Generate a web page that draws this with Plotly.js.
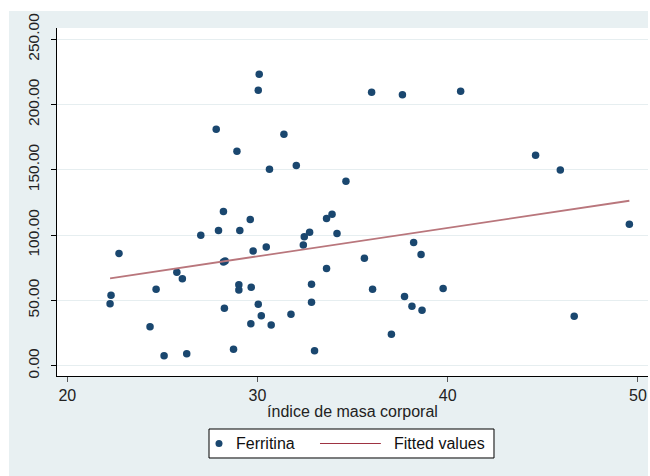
<!DOCTYPE html>
<html>
<head>
<meta charset="utf-8">
<script src="https://cdn.plot.ly/plotly-3.0.1.min.js"></script>
<style>
html,body{margin:0;padding:0;background:#ffffff;}
#chart{position:absolute;left:9px;top:11px;width:639px;height:465px;}
</style>
</head>
<body>
<div id="chart"></div>
<script>
// Índice de masa corporal (x) vs Ferritina (y)
const imc = [22.25,22.30,22.72,24.35,24.67,25.09,25.76,26.05,26.28,27.02,
             27.83,27.95,28.21,28.21,28.30,28.26,28.74,28.92,29.02,29.02,
             29.07,29.62,29.65,29.67,29.77,30.04,30.09,30.04,30.20,30.46,
             30.63,30.72,31.39,31.76,32.04,32.41,32.46,32.74,32.84,32.84,
             33.00,33.63,33.63,33.92,34.18,34.65,35.62,36.00,36.05,37.04,
             37.62,37.73,38.12,38.21,38.60,38.65,39.76,40.68,44.62,45.92,
             46.65,49.55];
const ferritina = [47.5,53.9,86.0,29.9,58.5,7.7,71.5,66.6,9.2,99.8,
                   181.1,103.6,118.1,79.4,80.1,43.9,12.5,164.3,62.0,58.0,
                   103.6,112.0,32.1,60.0,87.8,211.0,223.2,47.0,38.3,90.8,
                   150.5,31.1,177.3,39.3,153.3,92.4,98.7,102.1,62.3,48.5,
                   11.5,74.5,112.8,115.9,101.3,141.3,82.2,209.4,58.5,24.0,
                   207.4,53.0,45.5,94.4,85.2,42.4,59.2,210.2,161.2,149.8,
                   37.8,108.3];
// Fitted values (end points)
const fitX = [22.25, 49.55];
const fitY = [66.9, 126.3];
const yTicks = [0, 50, 100, 150, 200, 250];
const xTicks = [20, 30, 40, 50];
const seriesNames = ['Ferritina', 'Fitted values'];

const navy = '#1A476F';
const fitColor = '#B9767C';

const traces = [
  {x: imc, y: ferritina, type: 'scatter', mode: 'markers', name: seriesNames[0],
   marker: {color: navy, size: 7.5, line: {width: 0}}},
  {x: fitX, y: fitY, type: 'scatter', mode: 'lines', name: seriesNames[1],
   line: {color: fitColor, width: 1.8}}
];

// Legend box drawn in paper coordinates below the plot (Stata style)
const legY = -0.194;
const shapes = [
  {type: 'rect', xref: 'paper', yref: 'paper', x0: 0.2572, x1: 0.7394, y0: -0.2356, y1: -0.1523,
   fillcolor: '#ffffff', line: {color: '#000000', width: 1}},
  {type: 'circle', xref: 'paper', yref: 'paper', xsizemode: 'pixel', ysizemode: 'pixel',
   xanchor: 0.2741, yanchor: legY, x0: -3.5, x1: 3.5, y0: -3.5, y1: 3.5,
   fillcolor: navy, line: {width: 0}},
  {type: 'line', xref: 'paper', yref: 'paper', x0: 0.445, x1: 0.548, y0: legY, y1: legY,
   line: {color: '#9E3342', width: 1.2}}
];
const annotations = [
  {xref: 'paper', yref: 'paper', x: 0.2995, y: legY, xanchor: 'left', yanchor: 'middle',
   text: seriesNames[0], showarrow: false, font: {size: 16, color: '#111'}},
  {xref: 'paper', yref: 'paper', x: 0.5668, y: legY, xanchor: 'left', yanchor: 'middle',
   text: seriesNames[1], showarrow: false, font: {size: 16, color: '#111'}}
];

const layout = {
  width: 639, height: 465,
  paper_bgcolor: '#E8F0F2',
  plot_bgcolor: '#ffffff',
  margin: {l: 48, r: 0, t: 17, b: 100},
  font: {family: 'Liberation Sans, Arial, sans-serif', size: 16, color: '#222'},
  showlegend: false,
  shapes: shapes,
  annotations: annotations,
  xaxis: {range: [19.46, 50.53], tickvals: xTicks, ticktext: xTicks.map(String),
          showgrid: false, zeroline: false, showline: true, linecolor: '#000', linewidth: 1,
          ticks: 'outside', ticklen: 5, tickcolor: '#555', tickfont: {size: 16},
          title: {text: 'índice de masa corporal', font: {size: 16, color: '#222'}, standoff: 2}},
  yaxis: {range: [-7.9, 258.6], tickvals: yTicks, ticktext: yTicks.map(v => v.toFixed(2)),
          tickangle: -90, showgrid: true, gridcolor: '#E6EEF0', gridwidth: 1,
          zeroline: false, showline: true, linecolor: '#000', linewidth: 1,
          ticks: 'outside', ticklen: 5, tickcolor: '#000', ticklabelstandoff: 6,
          tickfont: {size: 15.5}}
};

Plotly.newPlot('chart', traces, layout, {displayModeBar: false, staticPlot: true});
</script>
</body>
</html>
